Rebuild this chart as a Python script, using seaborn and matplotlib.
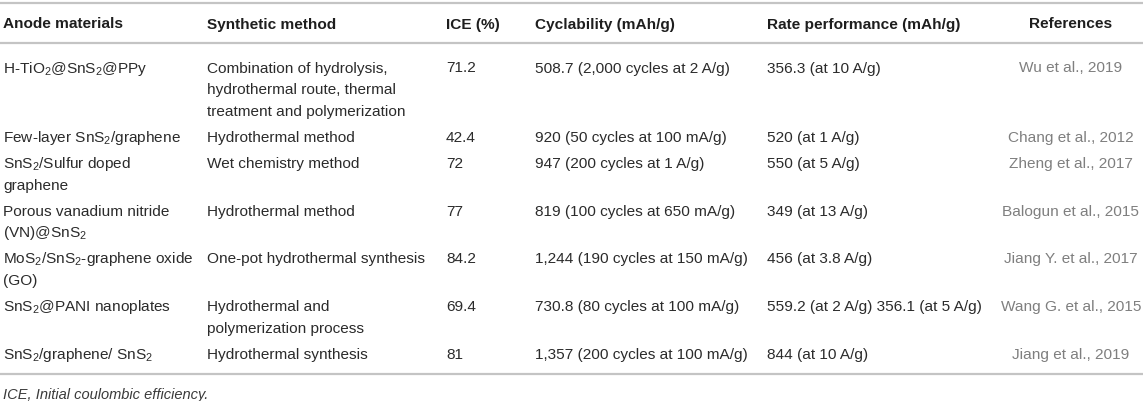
import seaborn as sns
import matplotlib.pyplot as plt

# table contents (text as it appears in the picture)
headers = ["Anode materials", "Synthetic method", "ICE (%)", "Cyclability (mAh/g)",
           "Rate performance (mAh/g)", "References"]
materials = ["H-TiO$_2$@SnS$_2$@PPy",
             "Few-layer SnS$_2$/graphene",
             "SnS$_2$/Sulfur doped\ngraphene",
             "Porous vanadium nitride\n(VN)@SnS$_2$",
             "MoS$_2$/SnS$_2$-graphene oxide\n(GO)",
             "SnS$_2$@PANI nanoplates",
             "SnS$_2$/graphene/ SnS$_2$"]
methods = ["Combination of hydrolysis,\nhydrothermal route, thermal\ntreatment and polymerization",
           "Hydrothermal method",
           "Wet chemistry method",
           "Hydrothermal method",
           "One-pot hydrothermal synthesis",
           "Hydrothermal and\npolymerization process",
           "Hydrothermal synthesis"]
ice = ["71.2", "42.4", "72", "77", "84.2", "69.4", "81"]
cyclability = ["508.7 (2,000 cycles at 2 A/g)",
               "920 (50 cycles at 100 mA/g)",
               "947 (200 cycles at 1 A/g)",
               "819 (100 cycles at 650 mA/g)",
               "1,244 (190 cycles at 150 mA/g)",
               "730.8 (80 cycles at 100 mA/g)",
               "1,357 (200 cycles at 100 mA/g)"]
rate = ["356.3 (at 10 A/g)", "520 (at 1 A/g)", "550 (at 5 A/g)", "349 (at 13 A/g)",
        "456 (at 3.8 A/g)", "559.2 (at 2 A/g) 356.1 (at 5 A/g)", "844 (at 10 A/g)"]
references = ["Wu et al., 2019", "Chang et al., 2012", "Zheng et al., 2017",
              "Balogun et al., 2015", "Jiang Y. et al., 2017", "Wang G. et al., 2015",
              "Jiang et al., 2019"]
footnote = "ICE, Initial coulombic efficiency."

sns.set_theme(style="white")
plt.rcParams['font.family'] = ['Liberation Sans', 'DejaVu Sans']
plt.rcParams['mathtext.fontset'] = 'custom'
plt.rcParams['mathtext.rm'] = 'Liberation Sans'
plt.rcParams['mathtext.it'] = 'Liberation Sans:italic'
plt.rcParams['mathtext.bf'] = 'Liberation Sans:bold'

W, H = 1143, 401
fig = plt.figure(figsize=(W / 100, H / 100), dpi=100)
ax = fig.add_axes([0, 0, 1, 1])
ax.set_xlim(0, W)
ax.set_ylim(H, 0)
ax.axis('off')

fs = 11.1
txt_col = '#2b2b2b'
ref_col = '#7f7f7f'
rule_col = '#c4c4c4'
col_x = [3, 207, 446, 535, 767, 1071]
base_off = 5.5  # centre -> baseline

# rules
for yy in (3, 43, 374):
    ax.axhline(yy, color=rule_col, lw=1.6)

# header
for i, h in enumerate(headers):
    ax.text(col_x[i], 23 + base_off, h, fontsize=fs, fontweight='bold', color='#1e1e1e',
            ha='center' if i == 5 else 'left', va='baseline')

# body rows
y = 67
line_step = 21.7
row_gap = 26
for r in range(len(materials)):
    cells = [materials[r], methods[r], ice[r], cyclability[r], rate[r], references[r]]
    nlines = max(c.count('\n') + 1 for c in cells)
    for i, c in enumerate(cells):
        for k, line in enumerate(c.split('\n')):
            ax.text(col_x[i], y + k * line_step + base_off, line, fontsize=fs,
                    color=ref_col if i == 5 else txt_col,
                    ha='center' if i == 5 else 'left', va='baseline')
    y += (nlines - 1) * line_step + row_gap

ax.text(3, 393 + base_off, footnote, fontsize=fs * 0.95, style='italic', color='#3a3a3a',
        ha='left', va='baseline')

fig.savefig('out.png', dpi=100)
